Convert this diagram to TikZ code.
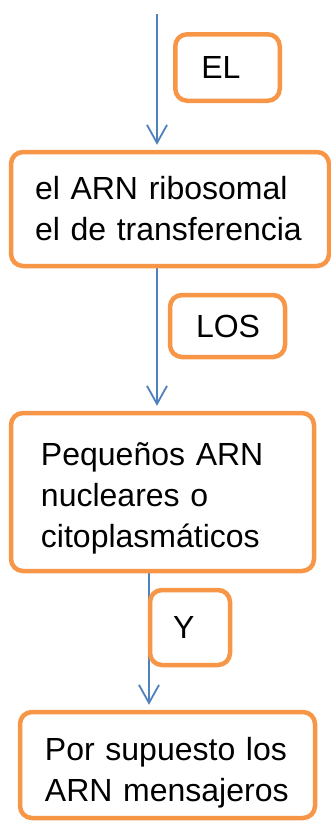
\documentclass[tikz,border=0pt]{standalone}
\usepackage{fontspec}
\setmainfont{Liberation Sans}
\usetikzlibrary{arrows.meta,backgrounds}
\definecolor{boxOrange}{HTML}{F79646}
\definecolor{flowBlue}{HTML}{4F81BD}
\newcommand\boxfont{\fontsize{32}{41}\selectfont\hyphenpenalty10000 \exhyphenpenalty10000 }

\def \elCenterX{227.5}
\def \elCenterY{67.5}
\def \ribosomalCenterX{170}
\def \ribosomalCenterY{209}
\def \losCenterX{227.5}
\def \losCenterY{326}
\def \nuclearesCenterX{162.5}
\def \nuclearesCenterY{492}
\def \yCenterX{190}
\def \yCenterY{627.5}
\def \mensajerosCenterX{167.5}
\def \mensajerosCenterY{765}
\def \flowAX{157}
\def \flowBX{149}

\tikzset{
  textbox/.style={draw=boxOrange, line width=4.5pt, rounded corners=12pt, fill=white,
    align=left, inner xsep=26pt, inner ysep=0pt, font=\boxfont},
  flow/.style={draw=flowBlue, line width=1.8pt,
    -{Straight Barb[length=18pt,width=20pt,line width=1.8pt]}, shorten >=5pt}
}

\begin{document}
\begin{tikzpicture}[x=1pt, y=-1pt]
\useasboundingbox (0,0) rectangle (331,823);
% ---- Boxes
% ---- EL
\node[textbox, text width=52.5pt, minimum height=66.5pt] (el) at (\elCenterX, \elCenterY) {EL};
% ---- Ribosomal
\node[textbox, inner xsep=24pt, text width=270pt, minimum height=114pt] (ribosomal) at (\ribosomalCenterX, \ribosomalCenterY) {el ARN ribosomal\\el de transferencia};
% ---- LOS
\node[textbox, text width=63pt, minimum height=62pt] (los) at (\losCenterX, \losCenterY) {LOS};
% ---- Nucleares
\node[textbox, text height=36pt, inner xsep=30pt, text width=243pt, minimum height=158pt] (nucleares) at (\nuclearesCenterX, \nuclearesCenterY) {Peque\~nos ARN\\nucleares o\\citoplasm\'aticos};
% ---- Y
\node[textbox, inner xsep=23pt, text width=34pt, minimum height=75pt] (y) at (\yCenterX, \yCenterY) {Y};
% ---- Mensajeros
\node[textbox, text height=39pt, inner xsep=25pt, text width=245pt, minimum height=106pt] (mensajeros) at (\mensajerosCenterX, \mensajerosCenterY) {Por supuesto los\\ARN mensajeros};

% Flux
\coordinate (start) at (\flowAX, 14);
\coordinate (lower) at (\flowBX, 0);
\begin{scope}[on background layer]
\draw[flow] (start) -- (start |- ribosomal.north);
\draw[flow] (ribosomal.south -| start) -- (start |- nucleares.north);
\draw[flow] (nucleares.south -| lower) -- (lower |- mensajeros.north);
\end{scope}
\end{tikzpicture}
\end{document}
